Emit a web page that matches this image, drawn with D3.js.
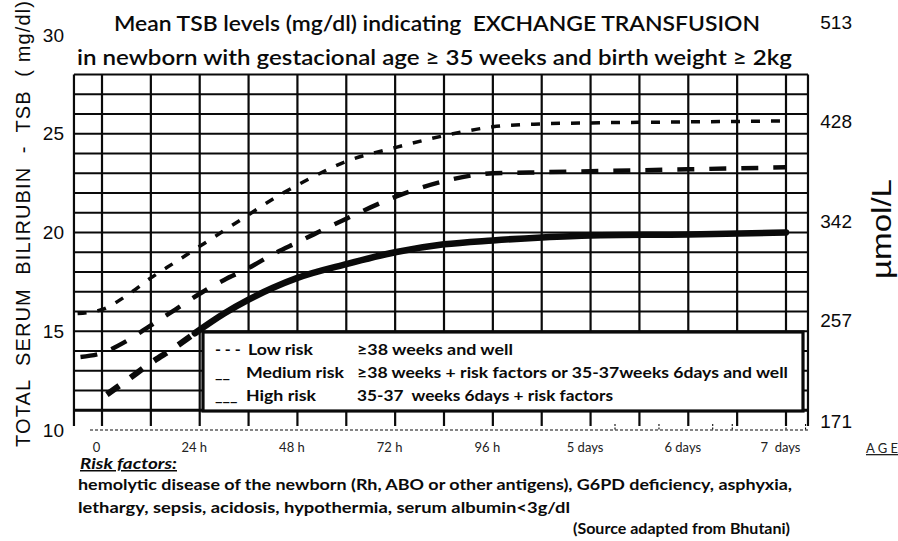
<!DOCTYPE html>
<html><head><meta charset="utf-8">
<script src="https://cdn.jsdelivr.net/npm/d3@7"></script>
<style>
html,body{margin:0;padding:0;background:#fff;}
svg{display:block;}
text{white-space:pre;}
</style></head>
<body>
<svg id="chart" width="898" height="541"></svg>
<script>
// ---------------- data ----------------
const xTickDays   = [0, 1, 2, 3, 4, 5, 6, 7];
const xTickLabels = ["0", "24 h", "48 h", "72 h", "96 h", "5 days", "6 days", "7  days"];
const yTicksLeft  = [10, 15, 20, 25, 30];          // mg/dl
const yTicksRight = [171, 257, 342, 428, 513];     // µmol/L

// Low risk (dotted)
const lowDays   = [-0.25, 0, 0.25, 0.5, 0.75, 1, 1.25, 1.5, 1.75, 2, 2.5, 3, 3.5, 4, 4.5, 5, 6, 7];
const lowValues = [15.9, 16.1, 16.8, 17.7, 18.5, 19.3, 20.1, 20.9, 21.7, 22.4, 23.6, 24.3, 24.9, 25.35, 25.5, 25.55, 25.6, 25.65];
// Medium risk (dashed)
const medDays   = [-0.22, 0, 0.25, 0.5, 0.75, 1, 1.25, 1.5, 1.75, 2, 2.5, 3, 3.5, 4, 4.5, 5, 6, 7];
const medValues = [13.7, 13.9, 14.5, 15.3, 16.1, 16.9, 17.6, 18.2, 18.9, 19.5, 20.7, 21.8, 22.6, 23.0, 23.05, 23.1, 23.2, 23.3];
// High risk (solid)
const highDays   = [0.05, 0.25, 0.5, 0.75, 0.95, 1.25, 1.5, 1.75, 2, 2.5, 3, 3.5, 4, 4.5, 5, 6, 7];
const highValues = [11.8, 12.5, 13.4, 14.2, 14.9, 15.9, 16.6, 17.2, 17.7, 18.4, 19.0, 19.4, 19.6, 19.75, 19.85, 19.9, 20.0];
const highDashedUntil = 0.95;

const gridTopValue = 28, gridBottomValue = 11, baseValue = 10;
const frameDays = [-0.287, 7.225];
const dottedTickDays = [5.25, 5.7, 6.25, 6.45, 7.0, 7.2];

const titleLines = ["Mean TSB levels (mg/dl) indicating  EXCHANGE TRANSFUSION",
                    "in newborn with gestacional age \u2265 35 weeks and birth weight \u2265 2kg"];
const legendNames = ["Low risk", "Medium risk", "High risk"];
const legendSymbols = ["- - -", "__", "___"];
const legendDescs = ["\u226538 weeks and well",
                     "\u226538 weeks + risk factors or 35-37weeks 6days and well",
                     "35-37  weeks 6days + risk factors"];
const footLines = ["hemolytic disease of the newborn (Rh, ABO or other antigens), G6PD deficiency, asphyxia,",
                   "lethargy, sepsis, acidosis, hypothermia, serum albumin<3g/dl"];

// ---------------- drawing ----------------
const svg = d3.select("#chart");
svg.append("rect").attr("width", 898).attr("height", 541).attr("fill", "#fff");

const x  = d3.scaleLinear().domain([0, 7]).range([102, 786]);
const y  = d3.scaleLinear().domain([10, 30]).range([430, 35]);
const yR = d3.scaleLinear().domain([171, 513]).range([421, 22]);

const xL = x(frameDays[0]), xRt = x(frameDays[1]);
const yTop = y(gridTopValue);

const ink = "#0a0a0a";
const grid = svg.append("g");

// horizontal grid lines
grid.selectAll("line.h").data(d3.range(gridBottomValue, gridTopValue + 1)).join("line")
  .attr("x1", xL).attr("x2", xRt).attr("y1", d => y(d)).attr("y2", d => y(d))
  .attr("stroke", ink).attr("stroke-width", d => d === gridBottomValue ? 3 : 2.2);

// vertical grid lines
const vDays = d3.range(0, 7.01, 0.5).concat(frameDays);
grid.selectAll("line.v").data(vDays).join("line")
  .attr("x1", d => x(d)).attr("x2", d => x(d))
  .attr("y1", yTop).attr("y2", y(baseValue) - 4)
  .attr("stroke", ink).attr("stroke-width", 2.2);

// dashed base line at 10
grid.append("line").attr("x1", 90).attr("x2", xRt).attr("y1", y(baseValue)).attr("y2", y(baseValue))
  .attr("stroke", ink).attr("stroke-width", 1.1).attr("stroke-dasharray", "3,2");
grid.selectAll("line.dt").data(dottedTickDays).join("line")
  .attr("x1", d => x(d)).attr("x2", d => x(d)).attr("y1", y(baseValue) - 6).attr("y2", y(baseValue) + 1)
  .attr("stroke", ink).attr("stroke-width", 1.1).attr("stroke-dasharray", "2,1.5");

// curves
const line = d3.line().x(d => x(d[0])).y(d => y(d[1])).curve(d3.curveMonotoneX);
const lowPts = lowDays.map((d, i) => [d, lowValues[i]]);
const medPts = medDays.map((d, i) => [d, medValues[i]]);
const highPts = highDays.map((d, i) => [d, highValues[i]]);

svg.append("path").attr("d", line(lowPts)).attr("fill", "none").attr("stroke", ink)
  .attr("stroke-width", 3.5).attr("stroke-dasharray", "9,11");
svg.append("path").attr("d", line(medPts)).attr("fill", "none").attr("stroke", ink)
  .attr("stroke-width", 4.5).attr("stroke-dasharray", "17,15");
svg.append("path").attr("d", line(highPts.filter(p => p[0] <= highDashedUntil))).attr("fill", "none")
  .attr("stroke", ink).attr("stroke-width", 6).attr("stroke-dasharray", "15,14");
svg.append("path").attr("d", line(highPts.filter(p => p[0] >= highDashedUntil))).attr("fill", "none")
  .attr("stroke", ink).attr("stroke-width", 6.5).attr("stroke-linecap", "round");

// legend box
const lg = svg.append("g");
lg.append("rect").attr("x", 203).attr("y", 332).attr("width", 600).attr("height", 79)
  .attr("fill", "#fff").attr("stroke", ink).attr("stroke-width", 3.2);
const rowY = [355, 378, 401];
const sansC = "Lato, 'Open Sans', sans-serif";
lg.selectAll("text.sym").data(legendSymbols).join("text")
  .attr("x", 215).attr("y", (d, i) => rowY[i]).text(d => d)
  .attr("font-family", sansC).attr("font-weight", 700).attr("font-size", 16).attr("fill", ink);
const nameW = [65, 98, 70];
lg.selectAll("text.nm").data(legendNames).join("text")
  .attr("x", (d, i) => i === 0 ? 248 : 246).attr("y", (d, i) => rowY[i]).text(d => d)
  .attr("font-family", sansC).attr("font-weight", 700).attr("font-size", 16).attr("fill", ink)
  .attr("textLength", (d, i) => nameW[i]).attr("lengthAdjust", "spacingAndGlyphs");
const descW = [156, 431, 256];
lg.selectAll("text.ds").data(legendDescs).join("text")
  .attr("x", 357).attr("y", (d, i) => rowY[i]).text(d => d)
  .attr("font-family", sansC).attr("font-weight", 700).attr("font-size", 15.5).attr("fill", ink)
  .attr("textLength", (d, i) => descW[i]).attr("lengthAdjust", "spacingAndGlyphs");

// axes
const numFont = "'Liberation Sans', Arial, sans-serif";
const axL = svg.append("g").attr("transform", "translate(66,0)")
  .call(d3.axisLeft(y).tickValues(yTicksLeft).tickSize(0).tickPadding(2).tickFormat(d3.format("d")));
axL.select(".domain").remove();
axL.selectAll("text").attr("font-family", numFont).attr("font-size", 19).attr("fill", ink);

const axR = svg.append("g").attr("transform", "translate(852,0)")
  .call(d3.axisRight(yR).tickValues(yTicksRight).tickSize(0).tickPadding(0).tickFormat(d3.format("d")));
axR.select(".domain").remove();
axR.selectAll("text").attr("text-anchor", "end").attr("x", 0)
  .attr("font-family", numFont).attr("font-size", 19).attr("fill", ink);

const axB = svg.append("g").attr("transform", "translate(-6,443)")
  .call(d3.axisBottom(x).tickValues(xTickDays).tickSize(0).tickPadding(0)
    .tickFormat((d, i) => xTickLabels[i]));
axB.select(".domain").remove();
axB.selectAll("text").attr("font-family", sansC).attr("font-size", 13).attr("fill", "#222");

svg.append("text").attr("x", 882).attr("y", 453).attr("text-anchor", "middle")
  .attr("font-family", sansC).attr("font-size", 13).attr("fill", "#222")
  .attr("text-decoration", "underline").text("A G E");

// titles
svg.append("text").attr("x", 114).attr("y", 31).text(titleLines[0])
  .attr("font-family", sansC).attr("font-size", 21).attr("font-weight", 600).attr("fill", ink)
  .attr("textLength", 646).attr("lengthAdjust", "spacingAndGlyphs");
svg.append("text").attr("x", 77).attr("y", 65).text(titleLines[1])
  .attr("font-family", sansC).attr("font-size", 21).attr("font-weight", 600).attr("fill", ink)
  .attr("textLength", 715).attr("lengthAdjust", "spacingAndGlyphs");

// axis titles
svg.append("text").attr("transform", "translate(30,224) rotate(-90)").attr("text-anchor", "middle")
  .text("TOTAL  SERUM  BILIRUBIN  -  TSB  ( mg/dl)")
  .attr("font-family", numFont).attr("font-size", 20).attr("fill", ink)
  .attr("textLength", 446).attr("lengthAdjust", "spacing");
svg.append("text").attr("transform", "translate(891,229) rotate(-90)").attr("text-anchor", "middle")
  .text("\u00b5mol/L")
  .attr("font-family", numFont).attr("font-size", 27).attr("fill", ink)
  .attr("textLength", 100).attr("lengthAdjust", "spacingAndGlyphs");

// footnotes
svg.append("text").attr("x", 80).attr("y", 469).text("Risk factors:")
  .attr("font-family", sansC).attr("font-size", 15).attr("font-weight", 700).attr("font-style", "italic")
  .attr("text-decoration", "underline").attr("fill", ink)
  .attr("textLength", 97).attr("lengthAdjust", "spacingAndGlyphs");
const footW = [714, 492];
svg.selectAll("text.ft").data(footLines).join("text")
  .attr("x", 78).attr("y", (d, i) => 490 + i * 23).text(d => d)
  .attr("font-family", sansC).attr("font-size", 15.5).attr("font-weight", 700).attr("fill", ink)
  .attr("textLength", (d, i) => footW[i]).attr("lengthAdjust", "spacingAndGlyphs");
svg.append("text").attr("x", 573).attr("y", 534).text("(Source adapted from Bhutani)")
  .attr("font-family", sansC).attr("font-size", 15).attr("font-weight", 700).attr("fill", ink)
  .attr("textLength", 217).attr("lengthAdjust", "spacingAndGlyphs");
</script>
</body></html>
